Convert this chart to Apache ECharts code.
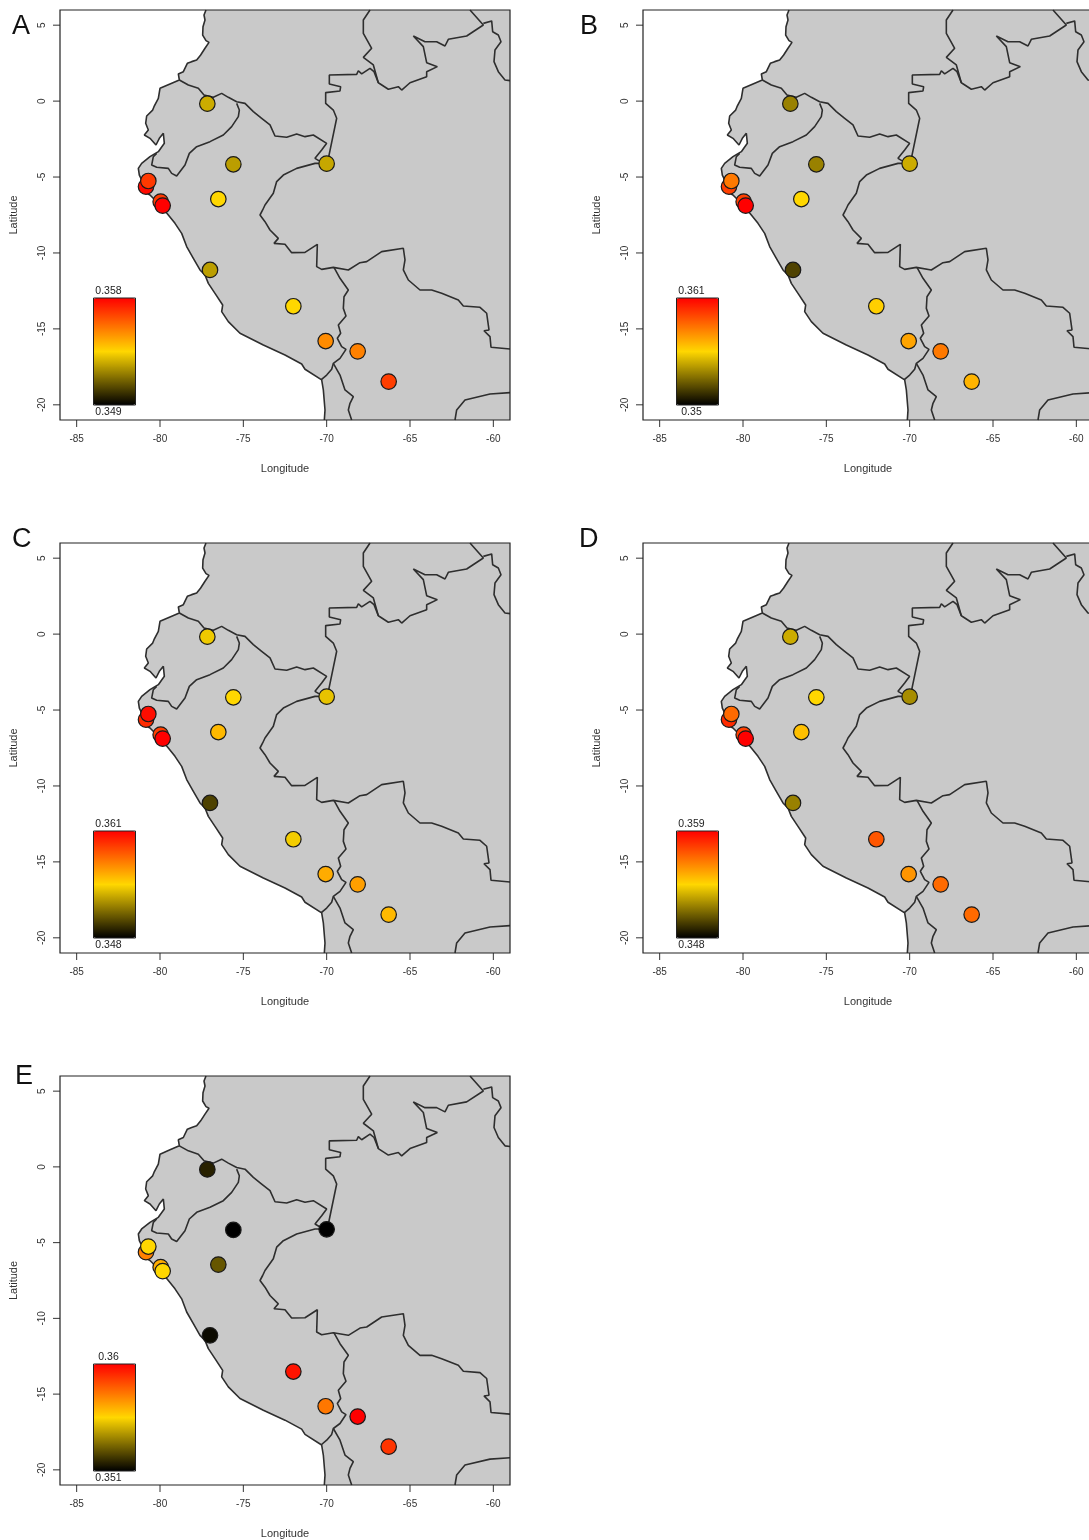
<!DOCTYPE html>
<html>
<head>
<meta charset="utf-8">
<style>html,body{margin:0;padding:0;background:#fff;overflow:hidden;width:1089px;height:1540px}#c{width:1110px;height:1540px}</style>
<script src="https://cdn.jsdelivr.net/npm/echarts@6/dist/echarts.min.js"></script>
</head>
<body>
<div id="c"></div>
<script>
// Tick labels and axis ranges
const lonTicks = [-85,-80,-75,-70,-65,-60];
const latTicks = [-20,-15,-10,-5,0,5];
const lonRange = [-86,-59];
const latRange = [-21,6];

// Sampling sites [lon, lat]
const sites = [[-77.16,-0.17],[-75.6,-4.16],[-76.5,-6.45],[-70,-4.12],[-80.84,-5.63],[-80.7,-5.26],[-79.96,-6.62],[-79.84,-6.88],[-77,-11.12],[-72,-13.51],[-70.06,-15.8],[-68.14,-16.48],[-66.28,-18.47]];

// Values per panel
const panelLetters = ['A','B','C','D','E'];
const valuesA = [.3526,.3523,.3535,.3525,.3578,.3568,.3568,.358,.3523,.3535,.3551,.3553,.3567];
const valuesB = [.3533,.3533,.3555,.3544,.3594,.3579,.3594,.361,.3517,.3557,.3568,.3579,.3564];
const valuesC = [.3541,.3545,.3554,.3539,.3597,.3606,.3591,.361,.35,.3542,.3558,.3562,.3554];
const valuesD = [.3524,.3535,.3541,.3516,.3579,.3563,.3574,.359,.3513,.3568,.3552,.3563,.3563];
const valuesE = [.3517,.351,.3528,.351,.3573,.3555,.3564,.3555,.3512,.3596,.3575,.36,.3589];
const rangeMin = [.349,.35,.348,.348,.351];
const rangeMax = [.358,.361,.361,.359,.36];
const rangeMinText = ['0.349','0.35','0.348','0.348','0.351'];
const rangeMaxText = ['0.358','0.361','0.361','0.359','0.36'];

// Outlines [lon, lat]
const coast = [[-77.24,6],[-77.36,5.67],[-77.3,5.34],[-77.42,4.9],[-77.44,4.35],[-77.24,3.98],[-77.06,3.87],[-77.3,3.48],[-77.56,3.04],[-77.8,2.71],[-78.1,2.6],[-78.36,2.49],[-78.6,1.94],[-78.9,1.79],[-78.84,1.39],[-79.4,1.13],[-80,0.84],[-80.1,0.18],[-80.36,-0.37],[-80.44,-0.59],[-80.8,-0.98],[-80.86,-1.46],[-80.7,-1.9],[-80.94,-2.23],[-80.6,-2.45],[-80.24,-2.89],[-80.04,-2.45],[-79.8,-2.12],[-79.74,-2.78],[-80.1,-3.33],[-80.6,-3.66],[-81.1,-4.1],[-81.3,-4.43],[-81.24,-4.87],[-81,-5.41],[-81.14,-5.85],[-80.6,-6.18],[-80.3,-6.51],[-79.9,-6.95],[-79.5,-7.5],[-79.1,-8.05],[-78.7,-8.71],[-78.4,-9.58],[-78,-10.35],[-77.6,-11.12],[-77.3,-11.45],[-77.1,-12],[-76.7,-12.66],[-76.24,-13.43],[-76.3,-13.86],[-75.9,-14.52],[-75.2,-15.29],[-73.8,-16.06],[-72.5,-16.72],[-71.5,-17.31],[-71.3,-17.66],[-70.3,-18.36],[-70.2,-19.02],[-70.1,-20.34],[-70.14,-21]];
const landCorners = [[-59,-21],[-59,6]];
const borderColombiaPeru = [[-78.84,1.39],[-78.3,1.06],[-77.7,0.84],[-77.36,0.4],[-76.8,0.25],[-76.3,0.51],[-75.9,0.25],[-75.4,-0.04],[-74.9,-0.15],[-74.4,-0.69],[-73.9,-1.13],[-73.4,-1.57],[-73.1,-2.3],[-72.4,-2.38],[-71.8,-2.17],[-71.3,-2.34],[-70.8,-2.23],[-70,-2.78],[-70.3,-3.22],[-70.7,-3.77],[-70.2,-4.1]];
const borderPeruBrazil = [[-70,-4.1],[-70.7,-4.1],[-71.8,-4.43],[-72.6,-4.87],[-73,-5.3],[-73.2,-6.07],[-73.7,-6.84],[-73.84,-7.17],[-74,-7.5],[-73.7,-7.94],[-73.4,-8.49],[-72.9,-9.04],[-73.16,-9.37],[-72.5,-9.43],[-72.1,-9.98],[-71.3,-9.96],[-70.56,-9.43],[-70.6,-10.9],[-70.3,-11.08],[-69.6,-10.95],[-68.7,-11.12],[-68,-10.64],[-67.6,-10.57],[-66.7,-9.91],[-65.4,-9.69],[-65.3,-10.46],[-65.4,-11.12],[-65.1,-11.78],[-64.4,-12.44],[-63.7,-12.44],[-63.1,-12.66],[-62.1,-13.1],[-61.8,-13.49],[-60.8,-13.58],[-60.4,-13.97],[-60.26,-15.07],[-60.56,-15.12],[-60.2,-15.51],[-60.14,-16.21],[-59,-16.32]];
const borderPeruBolivia = [[-69.56,-10.95],[-69.2,-11.67],[-68.7,-12.44],[-68.96,-12.88],[-69,-13.65],[-68.84,-14.15],[-69.3,-14.74],[-69.16,-15.29],[-69.36,-15.62],[-69.1,-16.17],[-68.84,-16.35],[-69.2,-16.94],[-69.6,-17.27],[-69.7,-17.66],[-70,-18.04],[-70.34,-18.36]];
const borderChileBolivia = [[-69.6,-17.27],[-69.2,-18.04],[-68.9,-19.02],[-68.4,-19.46],[-68.6,-19.9],[-68.7,-20.34],[-68.5,-21]];
const borderParaguay = [[-62.3,-21],[-62.2,-20.34],[-61.7,-19.68],[-60.2,-19.29],[-59,-19.2]];
const borderEcuadorPeru = [[-75.4,-0.15],[-75.24,-0.59],[-75.3,-1.02],[-75.7,-1.68],[-76.2,-2.23],[-77,-2.67],[-77.8,-3],[-78.24,-3.44],[-78.5,-4.21],[-79,-4.93],[-79.3,-4.76],[-79.5,-4.43],[-80.2,-4.36],[-80.5,-4.21],[-80.4,-3.66],[-80.2,-3.44]];
const borderColombiaBrazil = [[-69.96,-4.1],[-69.4,-1.13],[-69.6,-0.59],[-70.06,-0.15],[-70.06,0.56],[-69.2,0.67],[-69.16,0.95],[-69.84,1.13],[-69.84,1.72],[-68.2,1.76],[-68.1,2],[-67.9,1.79],[-67.4,2.16],[-67.16,1.94],[-66.9,1.21],[-66.3,0.78],[-65.7,0.95],[-65.5,0.73],[-65,1.21],[-64,1.61],[-64,1.94],[-63.36,2.27],[-64,2.53],[-64.2,3.59],[-64.8,4.29],[-64.1,3.91],[-63.4,3.91],[-62.9,3.63],[-62.7,4.07],[-61.6,4.29],[-60.6,5.01],[-61.4,6]];
const borderColombiaVenezuela = [[-67.4,6],[-67.8,5.34],[-67.8,4.46],[-67.3,3.48],[-67.8,2.88],[-67.2,2.38],[-66.9,1.21]];
const borderGuyana = [[-60.6,5.12],[-60.1,5.28],[-60.04,4.57],[-59.7,4.35],[-59.54,3.91],[-59.9,3.37],[-59.96,2.6],[-59.7,1.94],[-59.3,1.39],[-59,1.35]];

const panelValues = [valuesA,valuesB,valuesC,valuesD,valuesE];
const outlines = [coast,borderColombiaPeru,borderPeruBrazil,borderPeruBolivia,borderChileBolivia,borderParaguay,borderEcuadorPeru,borderColombiaBrazil,borderColombiaVenezuela,borderGuyana];

// Layout of the panels
const panelLeft = [60,643,60,643,60];
const panelTop = [10,10,543,543,1076];
const letterLeft = [12,580,12,579,15];
const letterTop = [13,13,526,526,1063];
const plotW = 450, plotH = 410;
const barDx = 33.5, barDy = 288, barW = 42, barH = 107;

const chart = echarts.init(document.getElementById('c'), null, {renderer:'canvas', width:1110, height:1540});
const grid=[], xAxis=[], yAxis=[], series=[], visualMap=[], title=[], graphic=[];
const axisFont = {color:'#333', fontSize:10, fontFamily:'Liberation Sans'};

panelLetters.forEach((letter,i)=>{
  grid.push({left:panelLeft[i], top:panelTop[i], width:plotW, height:plotH, show:true, z:5,
    backgroundColor:'transparent', borderColor:'#222', borderWidth:1.2});
  xAxis.push({gridIndex:i, type:'value', min:lonRange[0], max:lonRange[1], splitLine:{show:false},
    axisLine:{show:false, onZero:false}, axisTick:{show:false},
    axisLabel:{customValues:lonTicks, margin:14, ...axisFont},
    name:'Longitude', nameLocation:'middle', nameGap:43, nameTextStyle:{...axisFont, fontSize:11}});
  yAxis.push({gridIndex:i, type:'value', min:latRange[0], max:latRange[1], splitLine:{show:false},
    axisLine:{show:false, onZero:false}, axisTick:{show:false},
    axisLabel:{customValues:latTicks, rotate:90, margin:13, ...axisFont},
    name:'Latitude', nameLocation:'middle', nameGap:41, nameTextStyle:{...axisFont, fontSize:11}});
  series.push({type:'custom', xAxisIndex:i, yAxisIndex:i, z:1, silent:true, clip:true, data:[0],
    renderItem:(p,api)=>({type:'polygon', shape:{points:coast.concat(landCorners).map(c=>api.coord(c))}, style:{fill:'#c9c9c9'}})});
  // outward tick marks placed through the axes' own scales
  series.push({type:'custom', xAxisIndex:i, yAxisIndex:i, z:4, silent:true, clip:false, data:[0],
    renderItem:(p,api)=>({type:'group', children:[
      ...lonTicks.map(t=>{const c=api.coord([t,latRange[0]]);return {type:'line',shape:{x1:c[0],y1:c[1],x2:c[0],y2:c[1]+7},style:{stroke:'#333',lineWidth:1}};}),
      ...latTicks.map(t=>{const c=api.coord([lonRange[0],t]);return {type:'line',shape:{x1:c[0],y1:c[1],x2:c[0]-7,y2:c[1]},style:{stroke:'#333',lineWidth:1}};})
    ]})});
  outlines.forEach(o=>series.push({type:'line', xAxisIndex:i, yAxisIndex:i, z:2, silent:true, clip:true, showSymbol:false, symbol:'none',
    data:o, lineStyle:{color:'#2e2e2e', width:1.6}}));
  const sIdx = series.length;
  series.push({type:'scatter', xAxisIndex:i, yAxisIndex:i, z:3, symbolSize:15.5, silent:true,
    data:sites.map((s,k)=>[s[0],s[1],panelValues[i][k]]),
    itemStyle:{borderColor:'#1a1a1a', borderWidth:1.2, opacity:1}});
  visualMap.push({type:'continuous', seriesIndex:sIdx, dimension:2, min:rangeMin[i], max:rangeMax[i],
    orient:'vertical', calculable:false, realtime:false, hoverLink:false,
    left:panelLeft[i]+barDx, top:panelTop[i]+barDy, itemWidth:barW, itemHeight:barH, padding:0, text:null, showLabel:false,
    inRange:{color:['#000000','#FFD700','#FF0000']}});
  graphic.push({type:'rect', z:20, shape:{x:panelLeft[i]+barDx, y:panelTop[i]+barDy, width:barW, height:barH},
    style:{fill:'none', stroke:'#222', lineWidth:1}});
  const cx = panelLeft[i]+barDx+barW/2-6;
  graphic.push({type:'text', z:20, x:cx, y:panelTop[i]+barDy-7, style:{text:rangeMaxText[i], align:'center', verticalAlign:'middle', fill:'#222', fontSize:10.5, fontFamily:'Liberation Sans'}});
  graphic.push({type:'text', z:20, x:cx, y:panelTop[i]+barDy+barH+7, style:{text:rangeMinText[i], align:'center', verticalAlign:'middle', fill:'#222', fontSize:10.5, fontFamily:'Liberation Sans'}});
  title.push({text:letter, left:letterLeft[i], top:letterTop[i], padding:0,
    textStyle:{fontSize:27, fontWeight:'normal', color:'#111', fontFamily:'Liberation Sans'}});
});
chart.setOption({animation:false, grid, xAxis, yAxis, series, visualMap, title, graphic});
</script>
</body>
</html>
